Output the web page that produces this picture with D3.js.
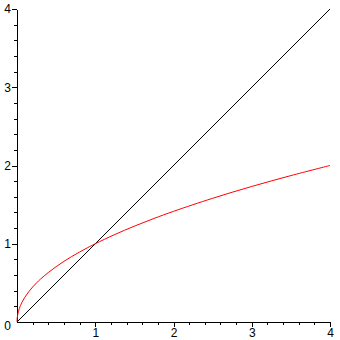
<!DOCTYPE html>
<html>
<head>
<meta charset="utf-8">
<script src="https://cdn.jsdelivr.net/npm/d3@7"></script>
<style>
body { margin: 0; background: #fff; }
.axis text { font-family: "Liberation Sans", Arial, sans-serif; font-size: 12px; fill: #000; }
.axis path, .axis line { stroke: #000; shape-rendering: crispEdges; }
</style>
</head>
<body>
<svg id="chart" width="340" height="340"></svg>
<script>
// values
var lineX = [0, 4];
var lineY = [0, 4];

var curveX = [0, 0.002, 0.01, 0.03, 0.06, 0.1, 0.15, 0.2, 0.25, 0.3, 0.4, 0.5, 0.6, 0.7, 0.8, 0.9, 1, 1.25, 1.5, 1.75, 2, 2.5, 3, 3.5, 4];
var curveY = [0, 0.045, 0.1, 0.173, 0.245, 0.316, 0.387, 0.447, 0.5, 0.548, 0.632, 0.707, 0.775, 0.837, 0.894, 0.949, 1, 1.118, 1.225, 1.323, 1.414, 1.581, 1.732, 1.871, 2];

var majorTicks = [1, 2, 3, 4];
var minorTicks = [0.2, 0.4, 0.6, 0.8, 1.2, 1.4, 1.6, 1.8, 2.2, 2.4, 2.6, 2.8, 3.2, 3.4, 3.6, 3.8];

var x = d3.scaleLinear().domain([0, 4]).range([17, 330]);
var y = d3.scaleLinear().domain([0, 4]).range([322, 9]);

var svg = d3.select("#chart");

// x axis
svg.append("g")
	.attr("class", "axis")
	.attr("transform", "translate(0," + y(0) + ")")
	.call(d3.axisBottom(x).tickValues(minorTicks).tickSize(3).tickSizeOuter(0).tickFormat(""));
var xMaj = svg.append("g")
	.attr("class", "axis")
	.attr("transform", "translate(0," + y(0) + ")")
	.call(d3.axisBottom(x).tickValues(majorTicks).tickSize(5).tickSizeOuter(0).tickPadding(1).tickFormat(d3.format("d")));
xMaj.select(".domain").remove();

// y axis
svg.append("g")
	.attr("class", "axis")
	.attr("transform", "translate(" + x(0) + ",0)")
	.call(d3.axisLeft(y).tickValues(minorTicks).tickSize(3).tickSizeOuter(0).tickFormat(""));
var yMaj = svg.append("g")
	.attr("class", "axis")
	.attr("transform", "translate(" + x(0) + ",0)")
	.call(d3.axisLeft(y).tickValues(majorTicks).tickSize(5).tickSizeOuter(0).tickPadding(1).tickFormat(d3.format("d")));
yMaj.select(".domain").remove();

// origin label
svg.append("text")
	.attr("x", 11)
	.attr("y", 327)
	.attr("text-anchor", "end")
	.attr("dominant-baseline", "middle")
	.style("font-family", "Liberation Sans, Arial, sans-serif")
	.style("font-size", "12px")
	.text("0");

var line = d3.line()
	.x(function(d) { return x(d[0]); })
	.y(function(d) { return y(d[1]); });

svg.append("path")
	.datum(d3.zip(lineX, lineY))
	.attr("fill", "none")
	.attr("stroke", "#000")
	.attr("stroke-width", 1)
	.attr("d", line);

svg.append("path")
	.datum(d3.zip(curveX, curveY))
	.attr("fill", "none")
	.attr("stroke", "#f00")
	.attr("stroke-width", 1)
	.attr("d", line.curve(d3.curveCatmullRom.alpha(0.5)));
</script>
</body>
</html>
